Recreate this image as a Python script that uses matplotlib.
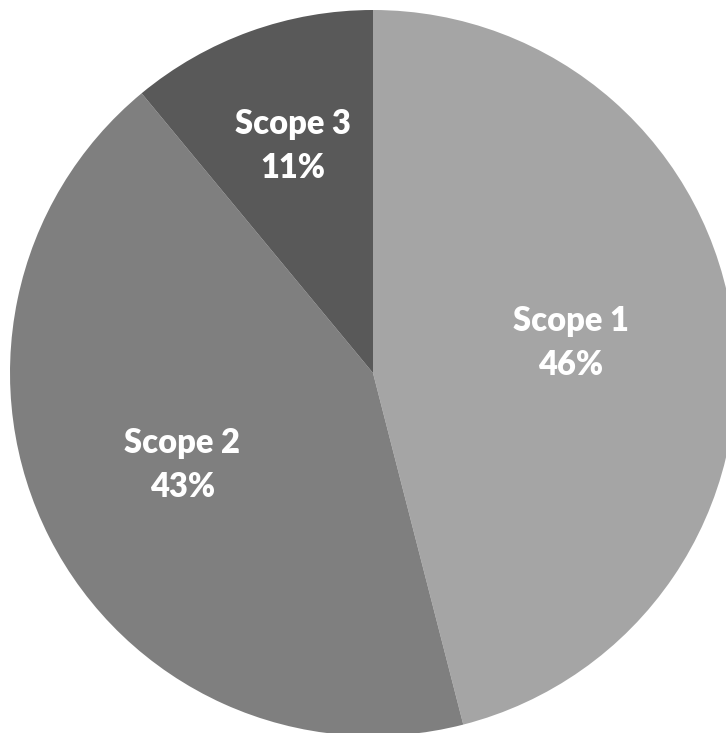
import matplotlib
matplotlib.use("Agg")
import matplotlib.pyplot as plt
import numpy as np

categories = ["Scope 1", "Scope 2", "Scope 3"]
values = [46, 43, 11]
colors = ["#a5a5a5", "#7f7f7f", "#595959"]
label_dist = [0.55, 0.59, 0.65]

W, H = 726, 733
fig = plt.figure(figsize=(W / 100, H / 100), dpi=100)
ax = fig.add_axes([0, 0, 1, 1])

cx, cy, R = 373, H - 373, 363
wedges, _ = ax.pie(values, colors=colors, startangle=90, counterclock=False,
                   center=(cx, cy), radius=R, frame=True,
                   wedgeprops=dict(linewidth=0))
ax.set_xlim(0, W)
ax.set_ylim(0, H)
ax.set_aspect("equal")
ax.axis("off")

total = sum(values)
for w, cat, v, d in zip(wedges, categories, values, label_dist):
    ang = np.deg2rad((w.theta1 + w.theta2) / 2)
    x = cx + d * R * np.cos(ang)
    y = cy + d * R * np.sin(ang) + 5
    ax.text(x, y, f"{cat}\n{round(100 * v / total)}%", ha="center", va="center",
            color="white", fontsize=23.5, fontweight="heavy", family="Lato",
            linespacing=1.45)

fig.savefig("out.png", dpi=100)
